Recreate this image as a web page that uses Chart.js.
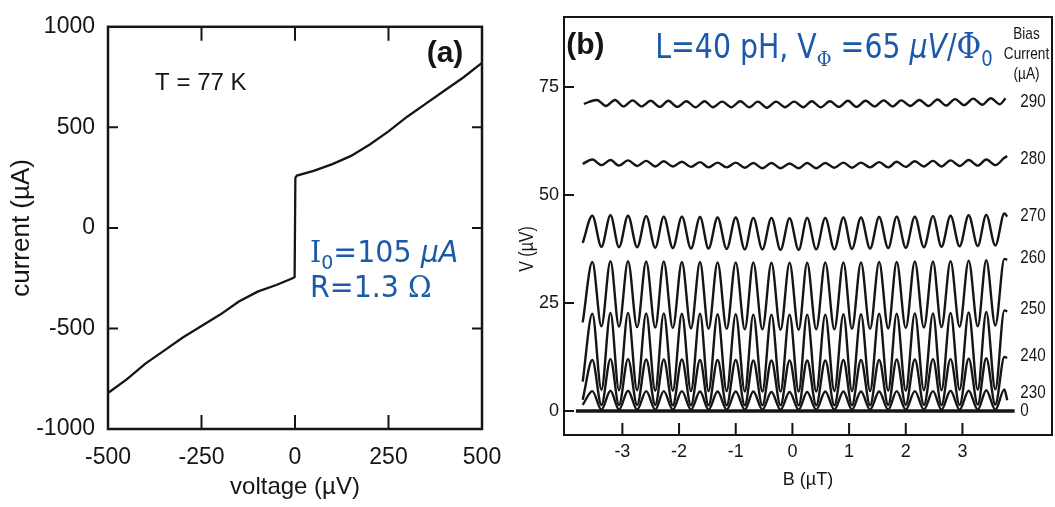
<!DOCTYPE html>
<html lang="en">
<head>
    <meta charset="UTF-8">
    <title>SQUID I-V and V-B curves</title>
    <script src="https://cdn.jsdelivr.net/npm/chart.js"></script>
    <style>
        body { margin: 0; background: #fff; width: 1055px; height: 507px; position: relative; overflow: hidden; }
        #chart-a { position: absolute; left: 0; top: 0; }
        #chart-b { position: absolute; left: 505px; top: 0; }
    </style>
</head>
<body>

    <canvas id="chart-a" width="525" height="507"></canvas>
    <canvas id="chart-b" width="550" height="507"></canvas>

    <script>
        // ---- panel (a): current vs voltage at 77 K ----
        const ivVoltage = [-500, -450, -400, -350, -300, -250, -200, -150, -100, -50, -5, -1, 1, 5, 50, 100, 150, 200, 250, 300, 350, 400, 450, 500];
        const ivCurrent = [-821, -753, -675, -610, -545, -488, -431, -366, -317, -284, -249, -244, 249, 260, 284, 317, 358, 415, 480, 553, 618, 683, 748, 821];
        const ivTicksX = [-500, -250, 0, 250, 500];
        const ivTicksY = [-1000, -500, 0, 500, 1000];

        // ---- panel (b): voltage vs field for several bias currents ----
        // field positions of the start, the alternating peaks / troughs and the end
        const bField = [-3.70, -3.53, -3.37, -3.21, -3.06, -2.90, -2.74, -2.58, -2.42, -2.27, -2.11, -1.95, -1.79, -1.63, -1.48, -1.32, -1.16, -1.00, -0.84, -0.69, -0.53, -0.37, -0.21, -0.05, 0.11, 0.26, 0.42, 0.58, 0.74, 0.90, 1.05, 1.21, 1.37, 1.53, 1.69, 1.84, 2.00, 2.16, 2.32, 2.48, 2.63, 2.79, 2.95, 3.11, 3.27, 3.42, 3.58, 3.74, 3.79];
        // the 290 uA curve is shifted a little in phase
        const bField290 = [-3.68, -3.45, -3.29, -3.13, -2.98, -2.82, -2.66, -2.50, -2.34, -2.19, -2.03, -1.87, -1.71, -1.55, -1.40, -1.24, -1.08, -0.92, -0.76, -0.61, -0.45, -0.29, -0.13, 0.03, 0.19, 0.34, 0.50, 0.66, 0.82, 0.98, 1.13, 1.29, 1.45, 1.61, 1.77, 1.92, 2.08, 2.24, 2.40, 2.56, 2.71, 2.87, 3.03, 3.19, 3.35, 3.50, 3.66, 3.76];

        const v290 = [71.1, 72.0, 70.6, 72.0, 70.5, 71.9, 70.5, 71.8, 70.4, 71.8, 70.4, 71.7, 70.3, 71.7, 70.3, 71.6, 70.3, 71.7, 70.3, 71.6, 70.2, 71.6, 70.3, 71.6, 70.3, 71.7, 70.3, 71.7, 70.4, 71.8, 70.4, 71.8, 70.5, 71.9, 70.5, 71.9, 70.6, 72.0, 70.6, 72.1, 70.7, 72.2, 70.8, 72.3, 70.9, 72.4, 71.0, 72.4];
        const v280 = [57.2, 58.2, 56.9, 58.1, 56.8, 58.0, 56.7, 57.9, 56.6, 57.8, 56.6, 57.7, 56.5, 57.6, 56.4, 57.5, 56.4, 57.5, 56.3, 57.4, 56.2, 57.4, 56.2, 57.3, 56.2, 57.4, 56.2, 57.4, 56.3, 57.5, 56.3, 57.5, 56.4, 57.6, 56.4, 57.7, 56.5, 57.8, 56.6, 57.9, 56.6, 58.0, 56.7, 58.1, 56.8, 58.2, 56.9, 58.6, 59.0];
        const v270 = [38.9, 45.2, 38.0, 45.3, 37.9, 45.2, 37.9, 45.1, 37.8, 45.0, 37.7, 45.0, 37.6, 44.9, 37.6, 44.8, 37.5, 44.8, 37.4, 44.7, 37.4, 44.7, 37.3, 44.6, 37.3, 44.7, 37.4, 44.7, 37.4, 44.8, 37.5, 44.8, 37.6, 44.9, 37.7, 45.0, 37.8, 45.0, 37.9, 45.1, 38.0, 45.2, 38.1, 45.3, 38.2, 45.4, 38.3, 45.7, 45.0];
        const v260 = [20.5, 34.5, 19.6, 34.7, 19.5, 34.7, 19.4, 34.6, 19.3, 34.6, 19.2, 34.5, 19.1, 34.5, 19.0, 34.4, 19.0, 34.4, 18.9, 34.4, 18.9, 34.3, 18.8, 34.3, 18.8, 34.3, 18.9, 34.4, 18.9, 34.4, 19.0, 34.4, 19.0, 34.5, 19.1, 34.5, 19.2, 34.6, 19.3, 34.6, 19.4, 34.7, 19.5, 34.8, 19.6, 34.9, 19.8, 35.2, 35.0];
        const v250 = [6.8, 22.5, 4.9, 22.7, 4.8, 22.7, 4.8, 22.6, 4.7, 22.6, 4.7, 22.5, 4.6, 22.5, 4.6, 22.4, 4.6, 22.4, 4.5, 22.3, 4.5, 22.3, 4.5, 22.3, 4.5, 22.3, 4.5, 22.3, 4.6, 22.4, 4.6, 22.4, 4.6, 22.5, 4.7, 22.5, 4.7, 22.6, 4.8, 22.6, 4.8, 22.7, 4.9, 22.8, 4.9, 22.9, 5.0, 23.3, 23.0];
        const v240 = [2.6, 11.8, 1.4, 12.0, 1.4, 12.0, 1.4, 11.9, 1.4, 11.9, 1.3, 11.9, 1.3, 11.8, 1.3, 11.8, 1.3, 11.8, 1.3, 11.7, 1.3, 11.7, 1.3, 11.7, 1.3, 11.7, 1.3, 11.7, 1.3, 11.8, 1.3, 11.8, 1.3, 11.8, 1.4, 11.9, 1.4, 11.9, 1.4, 12.0, 1.4, 12.0, 1.4, 12.1, 1.5, 12.2, 1.5, 12.5, 12.3];
        const v230 = [1.4, 4.6, 0.3, 4.7, 0.3, 4.7, 0.3, 4.6, 0.3, 4.6, 0.3, 4.6, 0.3, 4.5, 0.3, 4.5, 0.3, 4.5, 0.3, 4.5, 0.3, 4.4, 0.3, 4.4, 0.3, 4.4, 0.3, 4.5, 0.3, 4.5, 0.3, 4.5, 0.3, 4.5, 0.3, 4.6, 0.3, 4.6, 0.3, 4.6, 0.3, 4.7, 0.3, 4.7, 0.3, 4.8, 0.3, 5.0, 2.5];
        const zeroField = [-3.82, 3.92];
        const zeroV = [0, 0];

        const biasLabels = ['290', '280', '270', '260', '250', '240', '230', '0'];
        const bTicksX = [-3, -2, -1, 0, 1, 2, 3];
        const bTicksY = [0, 25, 50, 75];

        const INK = '#151515';
        const BLUE = '#1b5aab';
        const SANS = "'Liberation Sans', Arial, sans-serif";
        const BLUEFONT = "'DejaVu Sans', sans-serif";
        const SERIF = "'DejaVu Serif', serif";

        function pts(xs, ys) {
            return xs.map((x, i) => ({ x: x, y: ys[i] }));
        }

        // draw a row of text pieces with their own font and vertical shift,
        // squeezed horizontally by sx
        function drawRuns(ctx, x, y, runs, color, sx) {
            ctx.save();
            ctx.translate(x, y);
            ctx.scale(sx || 1, 1);
            ctx.fillStyle = color;
            ctx.textBaseline = 'alphabetic';
            ctx.textAlign = 'left';
            let cx = 0;
            for (const r of runs) {
                ctx.font = r.font;
                ctx.fillText(r.t, cx, r.dy || 0);
                cx += ctx.measureText(r.t).width;
            }
            ctx.restore();
        }

        // narrow text: regular sans squeezed to look like a condensed face
        function narrowText(ctx, t, x, y, size, align, rot) {
            ctx.save();
            ctx.translate(x, y);
            if (rot) ctx.rotate(rot);
            ctx.scale(0.8, 1);
            ctx.font = size + 'px ' + SANS;
            ctx.fillStyle = INK;
            ctx.textAlign = align;
            ctx.textBaseline = 'middle';
            ctx.fillText(t, 0, 0);
            ctx.restore();
        }

        // frame, inward ticks and notes for panel (a)
        const panelA = {
            id: 'panelA',
            afterDraw(chart) {
                const { ctx, chartArea: a, scales: { x, y } } = chart;
                ctx.save();
                ctx.strokeStyle = INK;
                ctx.lineWidth = 2.5;
                ctx.strokeRect(a.left, a.top, a.right - a.left, a.bottom - a.top);
                ctx.lineWidth = 2;
                ctx.beginPath();
                ivTicksY.slice(1, -1).forEach(v => {
                    const py = y.getPixelForValue(v);
                    ctx.moveTo(a.left, py); ctx.lineTo(a.left + 10, py);
                    ctx.moveTo(a.right, py); ctx.lineTo(a.right - 10, py);
                });
                ivTicksX.slice(1, -1).forEach(v => {
                    const px = x.getPixelForValue(v);
                    ctx.moveTo(px, a.bottom); ctx.lineTo(px, a.bottom - 14);
                    ctx.moveTo(px, a.top); ctx.lineTo(px, a.top + 14);
                });
                ctx.stroke();

                ctx.fillStyle = INK;
                ctx.textBaseline = 'middle';
                ctx.font = '24px ' + SANS;
                ctx.fillText('T = 77 K', x.getPixelForValue(-374), y.getPixelForValue(719));
                ctx.font = 'bold 30px ' + SANS;
                ctx.fillText('(a)', x.getPixelForValue(352), y.getPixelForValue(865));
                ctx.restore();

                const bx = x.getPixelForValue(40);
                drawRuns(ctx, bx, y.getPixelForValue(-170), [
                    { t: 'I', font: '30px ' + SERIF },
                    { t: '0', font: '20px ' + BLUEFONT, dy: 7 },
                    { t: '=105 ', font: '30px ' + BLUEFONT },
                    { t: 'µA', font: 'italic 30px ' + BLUEFONT }
                ], BLUE, 0.95);
                drawRuns(ctx, bx, y.getPixelForValue(-345), [
                    { t: 'R=1.3 ', font: '30px ' + BLUEFONT },
                    { t: 'Ω', font: '30px ' + SERIF }
                ], BLUE, 0.95);
            }
        };

        // frame, inward ticks and labels for panel (b)
        const labelV = [71.5, 58.3, 45.1, 35.4, 23.6, 12.7, 4.2, 0];
        const panelB = {
            id: 'panelB',
            afterDraw(chart) {
                const { ctx, chartArea: a, scales: { x, y } } = chart;
                ctx.save();
                ctx.strokeStyle = INK;
                ctx.lineWidth = 2;
                ctx.strokeRect(a.left, a.top, a.right - a.left, a.bottom - a.top);
                ctx.beginPath();
                bTicksY.forEach(v => {
                    const py = y.getPixelForValue(v);
                    ctx.moveTo(a.left, py); ctx.lineTo(a.left + 10, py);
                });
                bTicksX.forEach(v => {
                    const px = x.getPixelForValue(v);
                    ctx.moveTo(px, a.bottom); ctx.lineTo(px, a.bottom - 12);
                });
                ctx.stroke();

                ctx.fillStyle = INK;
                ctx.textBaseline = 'middle';
                ctx.font = 'bold 30px ' + SANS;
                ctx.fillText('(b)', x.getPixelForValue(-3.99), y.getPixelForValue(84.5));
                ctx.restore();

                biasLabels.forEach((t, i) => {
                    narrowText(ctx, t, x.getPixelForValue(4.02), y.getPixelForValue(labelV[i]), 19, 'left');
                });
                const cx = x.getPixelForValue(4.13);
                narrowText(ctx, 'Bias', cx, y.getPixelForValue(87.2), 17, 'center');
                narrowText(ctx, 'Current', cx, y.getPixelForValue(82.6), 17, 'center');
                narrowText(ctx, '(µA)', cx, y.getPixelForValue(78.0), 17, 'center');
                // vertical axis title, sitting a little below the middle as in the original
                narrowText(ctx, 'V (µV)', a.left - 37, y.getPixelForValue(37.5), 20, 'center', -Math.PI / 2);

                drawRuns(ctx, x.getPixelForValue(-2.42), y.getPixelForValue(81.7), [
                    { t: 'L=40 pH, V', font: '33px ' + BLUEFONT },
                    { t: 'Φ', font: '21px ' + SERIF, dy: 8 },
                    { t: ' =65 ', font: '33px ' + BLUEFONT },
                    { t: 'µV', font: 'italic 33px ' + BLUEFONT },
                    { t: '/', font: '33px ' + BLUEFONT },
                    { t: 'Φ', font: '35px ' + SERIF },
                    { t: '0', font: '21px ' + BLUEFONT, dy: 8 }
                ], BLUE, 0.86);
            }
        };

        new Chart(document.getElementById('chart-a'), {
            type: 'scatter',
            data: {
                datasets: [{
                    data: pts(ivVoltage, ivCurrent),
                    showLine: true,
                    borderColor: INK,
                    borderWidth: 2.3,
                    pointRadius: 0
                }]
            },
            options: {
                responsive: false,
                animation: false,
                layout: { padding: { left: 0, top: 19, right: 43, bottom: 0 } },
                plugins: { legend: { display: false }, tooltip: { enabled: false } },
                scales: {
                    x: {
                        type: 'linear', min: -500, max: 500,
                        afterBuildTicks: s => { s.ticks = ivTicksX.map(v => ({ value: v })); },
                        afterFit: s => { s.height = 78; },
                        grid: { display: false, tickLength: 0 },
                        border: { display: false },
                        ticks: { color: INK, font: { family: SANS, size: 23 }, padding: 15, maxRotation: 0, callback: v => String(v) },
                        title: { display: true, text: 'voltage (µV)', color: INK, font: { family: SANS, size: 24 }, padding: { top: 0, bottom: 5 } }
                    },
                    y: {
                        type: 'linear', min: -1000, max: 1000,
                        afterBuildTicks: s => { s.ticks = ivTicksY.map(v => ({ value: v })); },
                        afterFit: s => { s.width = 108; },
                        grid: { display: false, tickLength: 0 },
                        border: { display: false },
                        ticks: { color: INK, font: { family: SANS, size: 23 }, padding: 13, callback: v => String(v) },
                        title: { display: true, text: 'current (µA)', color: INK, font: { family: SANS, size: 26 }, padding: { top: 6, bottom: 0 } }
                    }
                }
            },
            plugins: [panelA]
        });

        const curve = (xs, ys) => ({
            data: pts(xs, ys),
            showLine: true,
            borderColor: INK,
            borderWidth: 2.4,
            pointRadius: 0,
            cubicInterpolationMode: 'monotone'
        });

        new Chart(document.getElementById('chart-b'), {
            type: 'scatter',
            data: {
                datasets: [
                    curve(bField290, v290),
                    curve(bField, v280),
                    curve(bField, v270),
                    curve(bField, v260),
                    curve(bField, v250),
                    curve(bField, v240),
                    curve(bField, v230),
                    Object.assign(curve(zeroField, zeroV), { borderWidth: 3.5 })
                ]
            },
            options: {
                responsive: false,
                animation: false,
                layout: { padding: { left: 0, top: 17, right: 3, bottom: 0 } },
                plugins: { legend: { display: false }, tooltip: { enabled: false } },
                scales: {
                    x: {
                        type: 'linear', min: -4.03, max: 4.58,
                        afterBuildTicks: s => { s.ticks = bTicksX.map(v => ({ value: v })); },
                        afterFit: s => { s.height = 72; },
                        grid: { display: false, tickLength: 0 },
                        border: { display: false },
                        ticks: { color: INK, font: { family: SANS, size: 18 }, padding: 6, maxRotation: 0 },
                        title: { display: true, text: 'B (µT)', color: INK, font: { family: SANS, size: 18 }, padding: { top: 0, bottom: 16 } }
                    },
                    y: {
                        type: 'linear', min: -5.56, max: 91.2,
                        afterBuildTicks: s => { s.ticks = bTicksY.map(v => ({ value: v })); },
                        afterFit: s => { s.width = 59; },
                        grid: { display: false, tickLength: 0 },
                        border: { display: false },
                        ticks: { color: INK, font: { family: SANS, size: 18 }, padding: 5 },
                        title: { display: false }
                    }
                }
            },
            plugins: [panelB]
        });
    </script>

</body>
</html>
